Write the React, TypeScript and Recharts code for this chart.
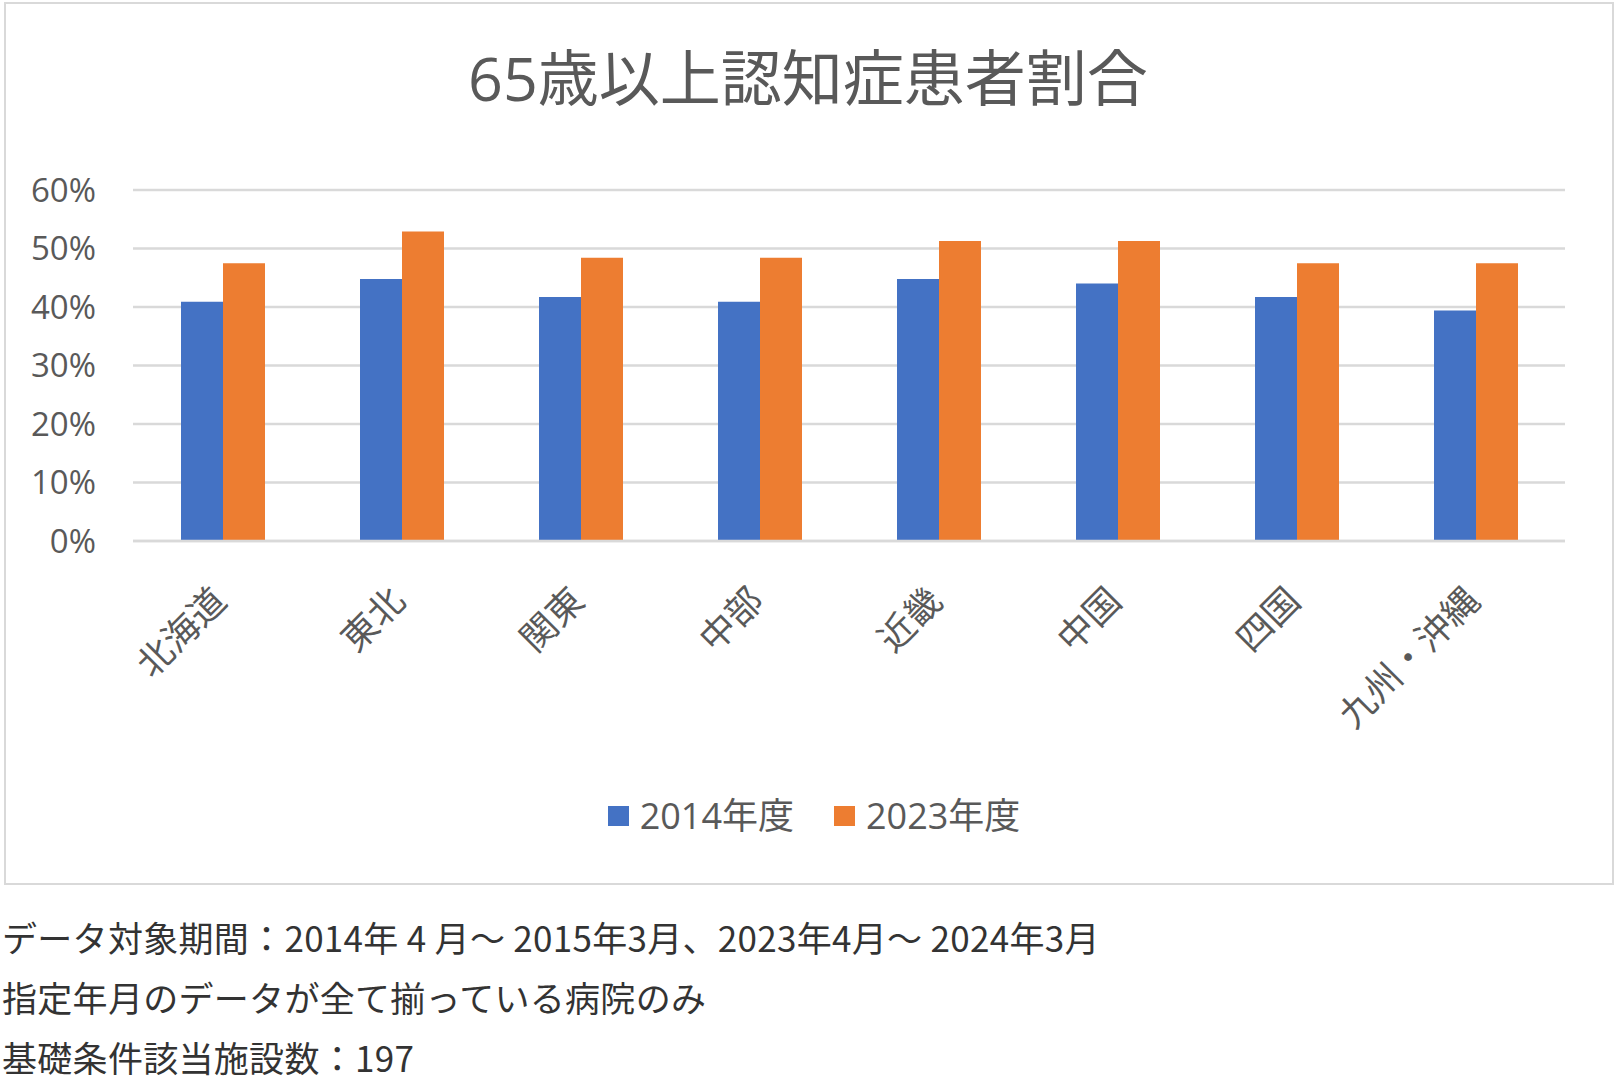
import { BarChart, Bar, XAxis, YAxis, CartesianGrid } from 'recharts';

const REGIONS = ['北海道', '東北', '関東', '中部', '近畿', '中国', '四国', '九州・沖縄'];
const FY2014 = [40.9, 44.8, 41.7, 40.9, 44.8, 44.0, 41.7, 39.4];
const FY2023 = [47.5, 52.9, 48.4, 48.4, 51.3, 51.3, 47.5, 47.5];
const Y_TICKS = [0, 10, 20, 30, 40, 50, 60];
const SERIES = [
  { key: 'fy2014', name: '2014年度', color: '#4472C4' },
  { key: 'fy2023', name: '2023年度', color: '#ED7D31' },
];
const TITLE = '65歳以上認知症患者割合';
const NOTES = [
  'データ対象期間：2014年 4 月～ 2015年3月、2023年4月～ 2024年3月',
  '指定年月のデータが全て揃っている病院のみ',
  '基礎条件該当施設数：197',
];

const data = REGIONS.map((region, i) => ({
  region,
  fy2014: FY2014[i],
  fy2023: FY2023[i],
}));

const GRID = '#d9d9d9';
const TEXT = '#595959';
const FONT = "'Open Sans', 'Noto Sans CJK JP', sans-serif";
const CJK = "'Noto Sans CJK JP', sans-serif";

// rotated category labels, end of text sits just under the group
function RegionTick({ x, y, payload }: any) {
  const ax = x + 6;
  const ay = y + 62;
  return (
    <text
      x={ax}
      y={ay}
      transform={`rotate(-45 ${ax} ${ay})`}
      textAnchor="end"
      fontSize={36}
      fill={TEXT}
      fontFamily={CJK}
    >
      {payload.value}
    </text>
  );
}

export default function App() {
  return (
    <div
      style={{
        position: 'absolute',
        left: 0,
        top: 0,
        width: 1616,
        height: 1085,
        background: '#fff',
        overflow: 'hidden',
      }}
    >
      <div
        style={{
          position: 'absolute',
          left: 4,
          top: 2,
          width: 1610,
          height: 883,
          border: `2px solid ${GRID}`,
          boxSizing: 'border-box',
        }}
      />
      <div
        style={{
          position: 'absolute',
          left: 0,
          top: 44,
          width: 1616,
          textAlign: 'center',
          fontSize: 61,
          lineHeight: '68px',
          color: TEXT,
          fontFamily: FONT,
        }}
      >
        {TITLE}
      </div>
      <div style={{ position: 'absolute', left: 0, top: 0 }}>
        <BarChart
          width={1616}
          height={890}
          data={data}
          margin={{ top: 190, right: 51, bottom: 99, left: 0 }}
          barGap={0}
        >
          <CartesianGrid vertical={false} stroke={GRID} strokeWidth={2.5} />
          <XAxis
            dataKey="region"
            interval={0}
            height={250}
            tickLine={false}
            tickSize={0}
            tickMargin={0}
            axisLine={{ stroke: GRID, strokeWidth: 2.5 }}
            tick={<RegionTick />}
          />
          <YAxis
            width={133}
            domain={[0, 60]}
            ticks={Y_TICKS}
            tickFormatter={(v: number) => `${v}%`}
            axisLine={false}
            tickLine={false}
            tickSize={0}
            tickMargin={37}
            tick={{ fontSize: 33, fill: TEXT, fontFamily: FONT }}
          />
          {SERIES.map((s) => (
            <Bar
              key={s.key}
              dataKey={s.key}
              name={s.name}
              fill={s.color}
              barSize={42}
              isAnimationActive={false}
            />
          ))}
        </BarChart>
      </div>
      <div
        style={{
          position: 'absolute',
          left: 6,
          top: 793,
          width: 1616,
          display: 'flex',
          justifyContent: 'center',
          gap: 40,
          fontFamily: FONT,
          fontSize: 36,
          lineHeight: '46px',
          color: TEXT,
        }}
      >
        {SERIES.map((s) => (
          <div key={s.key} style={{ display: 'flex', alignItems: 'center', gap: 11 }}>
            <span style={{ width: 21, height: 20, background: s.color, display: 'inline-block' }} />
            <span>{s.name}</span>
          </div>
        ))}
      </div>
      <div
        style={{
          position: 'absolute',
          left: 2,
          top: 907,
          fontFamily: CJK,
          fontSize: 35,
          letterSpacing: 0.3,
          lineHeight: '60px',
          color: '#333',
          whiteSpace: 'pre',
        }}
      >
        {NOTES.map((n) => (
          <div key={n}>{n}</div>
        ))}
      </div>
    </div>
  );
}
